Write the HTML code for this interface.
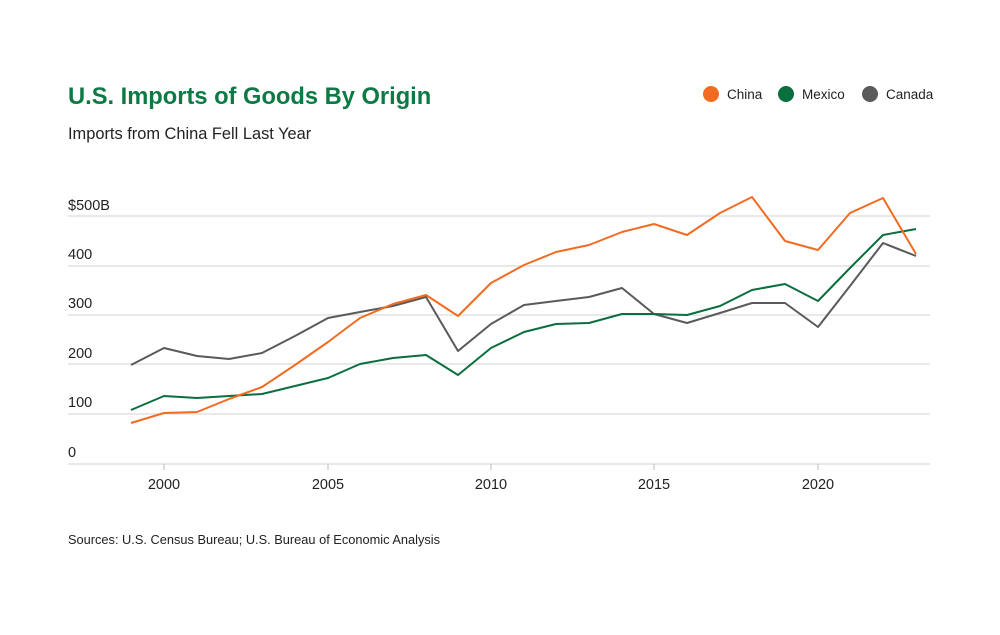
<!DOCTYPE html>
<html><head><meta charset="utf-8"><style>
body{margin:0;background:#fff;width:1000px;height:630px;overflow:hidden;font-family:"Liberation Sans",sans-serif}
</style></head><body>
<svg width="1000" height="630" xmlns="http://www.w3.org/2000/svg" font-family="Liberation Sans, sans-serif">
<text x="68" y="104" font-size="23.7" font-weight="bold" fill="#0d7a45">U.S. Imports of Goods By Origin</text>
<text x="68" y="139" font-size="16.4" fill="#222">Imports from China Fell Last Year</text>
<circle cx="711" cy="94" r="8" fill="#f26b21"/><text x="727" y="99" font-size="13.5" fill="#222">China</text>
<circle cx="786" cy="94" r="8" fill="#0a6e3f"/><text x="802" y="99" font-size="13.5" fill="#222">Mexico</text>
<circle cx="870" cy="94" r="8" fill="#5a5a5a"/><text x="886" y="99" font-size="13.5" fill="#222">Canada</text>
<g stroke="#dcdcdc" stroke-width="1.2">
<line x1="68" x2="930" y1="216" y2="216"/><line x1="68" x2="930" y1="266" y2="266"/><line x1="68" x2="930" y1="315" y2="315"/><line x1="68" x2="930" y1="364" y2="364"/><line x1="68" x2="930" y1="414" y2="414"/><line x1="68" x2="930" y1="464" y2="464"/>
</g>
<g font-size="14.5" fill="#222">
<text x="68" y="210">$500B</text><text x="68" y="259">400</text><text x="68" y="308">300</text><text x="68" y="358">200</text><text x="68" y="407">100</text><text x="68" y="457">0</text>
</g>
<g stroke="#bbb"><line x1="164" x2="164" y1="464" y2="470"/><line x1="328" x2="328" y1="464" y2="470"/><line x1="491" x2="491" y1="464" y2="470"/><line x1="654" x2="654" y1="464" y2="470"/><line x1="818" x2="818" y1="464" y2="470"/></g>
<g font-size="14.5" fill="#222" text-anchor="middle">
<text x="164" y="489">2000</text><text x="328" y="489">2005</text><text x="491" y="489">2010</text><text x="654" y="489">2015</text><text x="818" y="489">2020</text>
</g>
<g fill="none" stroke-width="2" stroke-linejoin="round">
<polyline stroke="#5a5a5a" points="131,365 164,348 197,356 229,359 262,353 295,336 328,318 360,312 393,306 426,297 458,351 491,324 524,305 556,301 589,297 622,288 654,314 687,323 720,313 752,303 785,303 818,327 850,286 883,243 916,256"/>
<polyline stroke="#0a6e3f" points="131,410 164,396 197,398 229,396 262,394 295,386 328,378 360,364 393,358 426,355 458,375 491,348 524,332 556,324 589,323 622,314 654,314 687,315 720,306 752,290 785,284 818,301 850,268 883,235 916,229"/>
<polyline stroke="#f26b21" points="131,423 164,413 197,412 229,399 262,387 295,365 328,342 360,318 393,304 426,295 458,316 491,283 524,265 556,252 589,245 622,232 654,224 687,235 720,213 752,197 785,241 818,250 850,213 883,198 916,254"/>
</g>
<text x="68" y="544" font-size="12.8" fill="#222">Sources: U.S. Census Bureau; U.S. Bureau of Economic Analysis</text>
</svg>
</body></html>
